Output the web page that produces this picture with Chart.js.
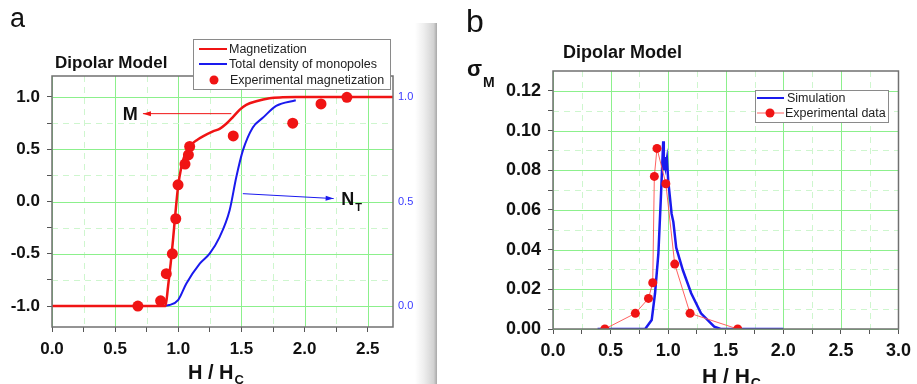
<!DOCTYPE html>
<html>
<head>
<meta charset="utf-8">
<script src="https://cdn.jsdelivr.net/npm/chart.js@4.4.1/dist/chart.umd.min.js"></script>
<style>
  html, body { margin: 0; padding: 0; background: #fff; }
  #wrap { position: relative; width: 917px; height: 384px; overflow: hidden; }
  #chartA { position: absolute; left: 0; top: 0; }
  #chartB { position: absolute; left: 440px; top: 0; }
  #gutter {
    position: absolute; left: 415px; top: 23px; width: 22px; height: 361px;
    background: linear-gradient(to right, #fff 0%, #eeeeee 40%, #d2d2d2 85%, #a8a8a8 100%);
  }
</style>
</head>
<body>
<div id="wrap">
  <canvas id="chartA" width="416" height="384"></canvas>
  <div id="gutter"></div>
  <canvas id="chartB" width="477" height="384"></canvas>
</div>
<script>
const FONT = '"Liberation Sans", Arial, sans-serif';
const RED = '#f01414';
const BLUE = '#1a1aee';
const GRID_MAJOR = 'rgb(140,240,140)';
const GRID_MINOR = 'rgb(206,246,206)';
const FRAME = '#707070';

// (a) magnetization curve M(H/Hc)
const magH = [0, 0.5, 0.898, 0.919, 0.94, 0.958, 0.977, 0.998, 1.024, 1.05, 1.09, 1.116, 1.143, 1.195, 1.274, 1.327, 1.38, 1.432, 1.485, 1.538, 1.617, 1.722, 1.827, 1.933, 2.7];
const magM = [-1, -1, -1, -0.813, -0.59, -0.369, -0.114, 0.139, 0.33, 0.44, 0.52, 0.558, 0.584, 0.622, 0.67, 0.695, 0.743, 0.806, 0.876, 0.924, 0.958, 0.987, 0.996, 1, 1];

// (a) total density of monopoles N_T (right axis)
const ntH = [0.86, 0.93, 1.0, 1.064, 1.17, 1.248, 1.327, 1.406, 1.459, 1.511, 1.59, 1.669, 1.775, 1.93];
const ntN = [0, 0.005, 0.03, 0.108, 0.203, 0.251, 0.33, 0.457, 0.616, 0.743, 0.854, 0.90, 0.957, 0.984];

// (a) experimental magnetization
const expH = [0.68, 0.86, 0.905, 0.953, 0.98, 0.998, 1.053, 1.08, 1.09, 1.435, 1.906, 2.13, 2.335];
const expM = [-1.0, -0.95, -0.69, -0.50, -0.165, 0.16, 0.358, 0.446, 0.526, 0.627, 0.749, 0.933, 0.996];

// (b) simulated sigma_M
const simH = [0.387, 0.80, 0.857, 0.886, 0.915, 0.937, 0.957, 0.962, 0.97, 0.978, 0.989, 0.995, 1.0, 1.03, 1.045, 1.07, 1.128, 1.2, 1.285, 1.40, 1.456, 2.0];
const simS = [0, 0, 0.0045, 0.018, 0.038, 0.0665, 0.0946, 0.080, 0.0866, 0.082, 0.0858, 0.080, 0.075, 0.058, 0.054, 0.041, 0.0296, 0.018, 0.0079, 0.0012, 0, 0];

// (b) experimental sigma_M
const sigH = [0.45, 0.715, 0.829, 0.866, 0.88, 0.903, 0.98, 1.057, 1.19, 1.604];
const sigS = [0, 0.0079, 0.0154, 0.0233, 0.0769, 0.091, 0.0732, 0.0327, 0.0079, 0];

// tick positions (majors get labels, the rest are minor ticks / dashed grid)
const ticksAx = [0, 0.25, 0.5, 0.75, 1, 1.25, 1.5, 1.75, 2, 2.25, 2.5];
const ticksAy = [-1, -0.75, -0.5, -0.25, 0, 0.25, 0.5, 0.75, 1];
const ticksAy2 = [0, 0.5, 1];
const ticksBx = [0, 0.25, 0.5, 0.75, 1, 1.25, 1.5, 1.75, 2, 2.25, 2.5, 2.75, 3];
const ticksBy = [0, 0.01, 0.02, 0.03, 0.04, 0.05, 0.06, 0.07, 0.08, 0.09, 0.1, 0.11, 0.12];

const pts = (xs, ys) => xs.map((x, i) => ({ x: x, y: ys[i] }));
const isMajor = (v, step) => Math.abs(v / step - Math.round(v / step)) < 1e-6;
const setTicks = list => s => { s.ticks = list.map(v => ({ value: v })); };

function drawGrid(chart, xStep, yStep) {
  const { ctx, chartArea: a, scales } = chart;
  ctx.save();
  ctx.lineWidth = 1;
  scales.x.ticks.forEach(t => {
    const px = Math.round(scales.x.getPixelForValue(t.value)) + 0.5;
    const major = isMajor(t.value, xStep);
    ctx.strokeStyle = major ? GRID_MAJOR : GRID_MINOR;
    ctx.setLineDash(major ? [] : [6, 5]);
    ctx.beginPath(); ctx.moveTo(px, a.top); ctx.lineTo(px, a.bottom); ctx.stroke();
  });
  scales.y.ticks.forEach(t => {
    const py = Math.round(scales.y.getPixelForValue(t.value)) + 0.5;
    const major = isMajor(t.value, yStep);
    ctx.strokeStyle = major ? GRID_MAJOR : GRID_MINOR;
    ctx.setLineDash(major ? [] : [6, 5]);
    ctx.beginPath(); ctx.moveTo(a.left, py); ctx.lineTo(a.right, py); ctx.stroke();
  });
  ctx.restore();
}

function drawFrame(chart) {
  const { ctx, chartArea: a } = chart;
  ctx.save();
  ctx.strokeStyle = FRAME;
  ctx.lineWidth = 1.5;
  ctx.strokeRect(a.left, a.top, a.width, a.height);
  ctx.restore();
}

function arrow(ctx, x1, y1, x2, y2, color) {
  const ang = Math.atan2(y2 - y1, x2 - x1);
  ctx.save();
  ctx.strokeStyle = color; ctx.fillStyle = color; ctx.lineWidth = 1;
  ctx.beginPath(); ctx.moveTo(x1, y1); ctx.lineTo(x2, y2); ctx.stroke();
  ctx.beginPath();
  ctx.moveTo(x2, y2);
  ctx.lineTo(x2 - 8 * Math.cos(ang) + 2.5 * Math.sin(ang), y2 - 8 * Math.sin(ang) - 2.5 * Math.cos(ang));
  ctx.lineTo(x2 - 8 * Math.cos(ang) - 2.5 * Math.sin(ang), y2 - 8 * Math.sin(ang) + 2.5 * Math.cos(ang));
  ctx.closePath(); ctx.fill();
  ctx.restore();
}

// text with a subscript, left aligned at x, baseline y
function subText(ctx, main, sub, x, y, size, subSize, subDrop) {
  ctx.save();
  ctx.fillStyle = '#111';
  ctx.textAlign = 'left'; ctx.textBaseline = 'alphabetic';
  ctx.font = `bold ${size}px ${FONT}`;
  ctx.fillText(main, x, y);
  const w = ctx.measureText(main).width;
  ctx.font = `bold ${subSize}px ${FONT}`;
  ctx.fillText(sub, x + w + 1, y + subDrop);
  ctx.restore();
}

function legendBox(chart, box, rows) {
  const { ctx } = chart;
  ctx.save();
  ctx.fillStyle = '#fff';
  ctx.fillRect(box.x, box.y, box.w, box.h);
  ctx.strokeStyle = '#8a8a8a'; ctx.lineWidth = 1;
  ctx.strokeRect(box.x + 0.5, box.y + 0.5, box.w, box.h);
  ctx.font = `12.5px ${FONT}`;
  ctx.textBaseline = 'middle'; ctx.textAlign = 'left';
  rows.forEach(r => {
    const ds = chart.data.datasets[r.index];
    if (r.line) {
      ctx.strokeStyle = r.lineColor || ds.borderColor;
      ctx.lineWidth = r.lineWidth || 2;
      ctx.beginPath(); ctx.moveTo(r.x0, r.y); ctx.lineTo(r.x1, r.y); ctx.stroke();
    }
    if (r.dot) {
      ctx.fillStyle = ds.pointBackgroundColor;
      ctx.beginPath(); ctx.arc(r.dot, r.y, 4.5, 0, Math.PI * 2); ctx.fill();
    }
    ctx.fillStyle = '#222';
    ctx.fillText(ds.label, r.tx, r.y + 1);
  });
  ctx.restore();
}

// Panel (a): magnetization and monopole density
(function () {
  const el = document.getElementById('chartA');
  new Chart(el.getContext('2d'), {
    type: 'line',
    data: {
      datasets: [{
        label: 'Experimental magnetization',
        data: pts(expH, expM),
        showLine: false,
        pointRadius: 5.5,
        pointBackgroundColor: RED,
        pointBorderWidth: 0,
        yAxisID: 'y'
      }, {
        label: 'Magnetization',
        data: pts(magH, magM),
        borderColor: RED,
        borderWidth: 2.5,
        pointRadius: 0,
        cubicInterpolationMode: 'monotone',
        yAxisID: 'y'
      }, {
        label: 'Total density of monopoles',
        data: pts(ntH, ntN),
        borderColor: BLUE,
        borderWidth: 2,
        pointRadius: 0,
        cubicInterpolationMode: 'monotone',
        yAxisID: 'y2'
      }]
    },
    options: {
      responsive: false,
      animation: false,
      layout: { padding: { top: 76, left: 0, right: 0, bottom: 0 } },
      scales: {
        x: {
          type: 'linear', min: 0, max: 2.7,
          afterBuildTicks: setTicks(ticksAx),
          afterFit: s => { s.height = 57; },
          border: { display: false },
          grid: { drawOnChartArea: false, tickLength: 5, tickColor: '#555' },
          ticks: {
            autoSkip: false, maxRotation: 0, padding: 7, color: '#111',
            font: { family: FONT, size: 17, weight: 'bold' },
            callback: v => isMajor(v, 0.5) ? v.toFixed(1) : ''
          }
        },
        y: {
          type: 'linear', min: -1.2, max: 1.2,
          afterBuildTicks: setTicks(ticksAy),
          afterFit: s => { s.width = 52; },
          border: { display: false },
          grid: { drawOnChartArea: false, tickLength: 5, tickColor: '#555' },
          ticks: {
            autoSkip: false, padding: 7, color: '#111',
            font: { family: FONT, size: 17, weight: 'bold' },
            callback: v => isMajor(v, 0.5) ? v.toFixed(1) : ''
          }
        },
        y2: {
          type: 'linear', position: 'right', min: -0.1, max: 1.1,
          afterBuildTicks: setTicks(ticksAy2),
          afterFit: s => { s.width = 23; },
          border: { display: false },
          grid: { drawOnChartArea: false, drawTicks: false },
          ticks: {
            autoSkip: false, padding: 5, color: '#3a3aff',
            font: { family: FONT, size: 11 },
            callback: v => v.toFixed(1)
          }
        }
      },
      plugins: { legend: { display: false }, tooltip: { enabled: false } }
    },
    plugins: [{
      id: 'panelA',
      beforeDatasetsDraw(chart) { drawGrid(chart, 0.5, 0.5); },
      afterDraw(chart) {
        const { ctx, scales } = chart;
        const x = scales.x, y = scales.y;
        drawFrame(chart);

        legendBox(chart, { x: 193, y: 39, w: 197, h: 50 }, [
          { index: 1, line: true, x0: 199, x1: 227, y: 49, tx: 229 },
          { index: 2, line: true, x0: 199, x1: 227, y: 64, tx: 229 },
          { index: 0, dot: 214, y: 80, tx: 230 }
        ]);

        ctx.save();
        ctx.fillStyle = '#111';
        ctx.font = `27px ${FONT}`;
        ctx.fillText('a', 10, 27);
        ctx.font = `bold 17px ${FONT}`;
        ctx.fillText('Dipolar Model', 55, 68);
        ctx.restore();

        // M and N_T pointers
        arrow(ctx, x.getPixelForValue(1.42), y.getPixelForValue(0.84),
          x.getPixelForValue(0.72), y.getPixelForValue(0.84), RED);
        ctx.save();
        ctx.fillStyle = '#111';
        ctx.font = `bold 18px ${FONT}`;
        ctx.textBaseline = 'middle';
        ctx.fillText('M', x.getPixelForValue(0.56), y.getPixelForValue(0.84) + 1);
        ctx.restore();
        arrow(ctx, x.getPixelForValue(1.511), y.getPixelForValue(0.075),
          x.getPixelForValue(2.23), y.getPixelForValue(0.028), BLUE);
        subText(ctx, 'N', 'T', x.getPixelForValue(2.29), y.getPixelForValue(0.032) + 7, 18, 11, 6);

        subText(ctx, 'H / H', 'C', 188, 379, 20, 13, 5);
      }
    }]
  });
})();

// Panel (b): sigma_M vs field
(function () {
  const el = document.getElementById('chartB');
  new Chart(el.getContext('2d'), {
    type: 'line',
    data: {
      datasets: [{
        label: 'Experimental data',
        data: pts(sigH, sigS),
        borderColor: 'rgba(255,80,80,0.9)',
        borderWidth: 1,
        pointRadius: 4.5,
        pointBackgroundColor: RED,
        pointBorderWidth: 0,
        tension: 0
      }, {
        label: 'Simulation',
        data: pts(simH, simS),
        borderColor: BLUE,
        borderWidth: 2.5,
        pointRadius: 0,
        tension: 0
      }]
    },
    options: {
      responsive: false,
      animation: false,
      layout: { padding: { top: 71, left: 0, right: 13, bottom: 0 } },
      scales: {
        x: {
          type: 'linear', min: 0, max: 3,
          afterBuildTicks: setTicks(ticksBx),
          afterFit: s => { s.height = 55; },
          border: { display: false },
          grid: { drawOnChartArea: false, tickLength: 5, tickColor: '#555' },
          ticks: {
            autoSkip: false, maxRotation: 0, padding: 6, color: '#111',
            font: { family: FONT, size: 18, weight: 'bold' },
            callback: v => isMajor(v, 0.5) ? v.toFixed(1) : ''
          }
        },
        y: {
          type: 'linear', min: 0, max: 0.13,
          afterBuildTicks: setTicks(ticksBy),
          afterFit: s => { s.width = 113; },
          border: { display: false },
          grid: { drawOnChartArea: false, tickLength: 5, tickColor: '#555' },
          ticks: {
            autoSkip: false, padding: 7, color: '#111',
            font: { family: FONT, size: 18, weight: 'bold' },
            callback: v => isMajor(v, 0.02) ? v.toFixed(2) : ''
          }
        }
      },
      plugins: { legend: { display: false }, tooltip: { enabled: false } }
    },
    plugins: [{
      id: 'panelB',
      beforeDatasetsDraw(chart) { drawGrid(chart, 0.5, 0.02); },
      afterDraw(chart) {
        const { ctx } = chart;
        drawFrame(chart);

        legendBox(chart, { x: 315, y: 90, w: 133, h: 32 }, [
          { index: 1, line: true, x0: 317, x1: 344, y: 98, tx: 347 },
          { index: 0, line: true, lineColor: 'rgba(255,80,80,0.9)', lineWidth: 1, x0: 317, x1: 344, dot: 330, y: 113, tx: 345 }
        ]);

        ctx.save();
        ctx.fillStyle = '#111';
        ctx.font = `32px ${FONT}`;
        ctx.fillText('b', 26, 32);
        ctx.font = `bold 18px ${FONT}`;
        ctx.fillText('Dipolar Model', 123, 58);
        ctx.restore();

        subText(ctx, 'σ', 'M', 27, 76, 22, 14, 11);
        subText(ctx, 'H / H', 'C', 262, 383, 21, 14, 5);
      }
    }]
  });
})();
</script>
</body>
</html>
